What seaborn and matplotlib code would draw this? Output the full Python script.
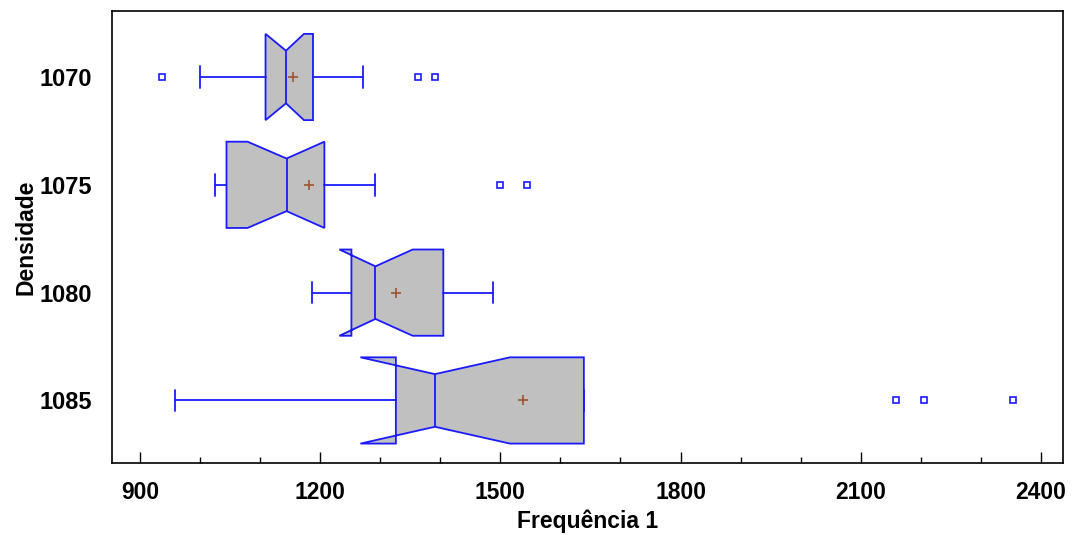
import matplotlib
matplotlib.use("Agg")
import matplotlib.pyplot as plt
from matplotlib.ticker import MultipleLocator
from matplotlib.path import Path
import seaborn as sns
import numpy as np

# ---- data ----
categories = ["1070", "1075", "1080", "1085"]
whisker_low = [1000, 1025, 1186, 958]
q1 = [1109, 1044, 1252, 1326]
ci_low = [1109, 1079, 1232, 1267]
median = [1143, 1144, 1292, 1391]
ci_high = [1173, 1207, 1354, 1516]
q3 = [1188, 1207, 1405, 1639]
whisker_high = [1271, 1291, 1487, 1639]
means = [1155, 1181, 1327, 1538]
outliers = [[937, 1363, 1391], [1500, 1545], [], [2158, 2205, 2353]]
x_ticks = [900, 1200, 1500, 1800, 2100, 2400]

sns.set_style("white")
plt.rcParams["font.family"] = ["Liberation Sans", "DejaVu Sans"]
plt.rcParams["font.weight"] = "bold"
plt.rcParams["text.color"] = "black"
plt.rcParams["axes.labelcolor"] = "black"
plt.rcParams["xtick.color"] = "black"
plt.rcParams["ytick.color"] = "black"

fig = plt.figure(figsize=(10.72, 5.35), dpi=100)
ax = fig.add_axes([0.1045, 0.1346, 0.887, 0.8444])

stats = []
for i, c in enumerate(categories):
    stats.append(dict(label=c, whislo=whisker_low[i], q1=q1[i], med=median[i],
                      q3=q3[i], whishi=whisker_high[i], mean=means[i],
                      cilo=ci_low[i], cihi=ci_high[i],
                      fliers=np.array(outliers[i], dtype=float)))

blue = "#1a1aff"
lw = 1.3
width = 0.8
positions = list(range(len(categories)))
res = ax.bxp(stats, positions=positions, orientation="horizontal",
             widths=width, capwidths=0.2, shownotches=True, showmeans=True,
             patch_artist=True,
             boxprops=dict(facecolor="#c0c0c0", edgecolor=blue, linewidth=lw),
             medianprops=dict(color=blue, linewidth=lw),
             whiskerprops=dict(color=blue, linewidth=lw),
             capprops=dict(color=blue, linewidth=lw),
             meanprops=dict(marker="+", markeredgecolor="#a0522d", markersize=7,
                            markeredgewidth=1.2),
             flierprops=dict(marker="s", markerfacecolor="none", markeredgecolor=blue,
                             markersize=5, markeredgewidth=1.2))

# widen the notch waist (reference narrows to ~61% of the box height)
waist = width * 0.61 / 2
for pos, box, med in zip(positions, res["boxes"], res["medians"]):
    verts = box.get_path().vertices.copy()
    for v in verts:
        if abs(abs(v[1] - pos) - width / 4) < 1e-6:
            v[1] = pos + np.sign(v[1] - pos) * waist
    box.set_path(Path(verts, box.get_path().codes))
    med.set_ydata([pos - waist, pos + waist])

ax.set_xlim(853.4, 2436.6)
ax.set_ylim(3.58, -0.61)
ax.set_xticks(x_ticks)
ax.set_xticklabels([str(t) for t in x_ticks])
ax.xaxis.set_minor_locator(MultipleLocator(100))
ax.set_yticks(positions)
ax.set_yticklabels(categories)

ax.tick_params(axis="x", which="major", direction="in", length=8, width=1,
               labelsize=16.5, pad=13, bottom=True, top=False)
ax.tick_params(axis="x", which="minor", direction="in", length=4, width=1,
               bottom=True, top=False)
ax.tick_params(axis="y", which="both", left=False, right=False, labelsize=17, pad=11)
for lab in ax.get_xticklabels() + ax.get_yticklabels():
    lab.set_fontweight("bold")

for s in ax.spines.values():
    s.set_color("black")
    s.set_linewidth(1.2)

ax.set_xlabel("Frequência 1", fontsize=16.5, fontweight="bold", labelpad=4)
ax.set_ylabel("Densidade", fontsize=16.5, fontweight="bold", labelpad=1)

fig.savefig("out.png", dpi=100)
